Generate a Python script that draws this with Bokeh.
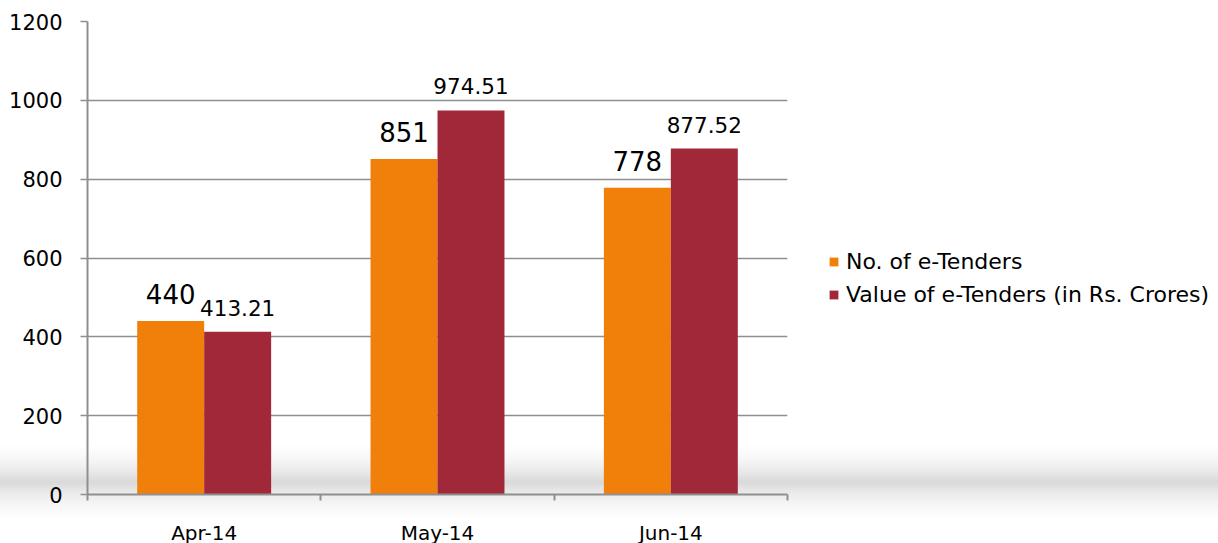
from bokeh.plotting import figure
from bokeh.models import (ColumnDataSource, Range1d, FixedTicker, LabelSet, Legend, LegendItem)
from bokeh.core.properties import value
from bokeh.transform import dodge
from bokeh.embed import file_html
from bokeh.resources import INLINE

# ---- data ----
months = ["Apr-14", "May-14", "Jun-14"]
num_tenders = [440, 851, 778]
value_tenders = [413.21, 974.51, 877.52]
num_labels = ["440", "851", "778"]
value_labels = ["413.21", "974.51", "877.52"]
series_names = ["No. of e-Tenders", "Value of e-Tenders (in Rs. Crores)"]
y_ticks = [0, 200, 400, 600, 800, 1000, 1200]

ORANGE = "#F0800A"
DARKRED = "#A12838"
GRID = "#8f8f8f"
FONT = "DejaVu Sans"

idx = list(range(len(months)))
src = ColumnDataSource(dict(i=idx, month=months, n=num_tenders, v=value_tenders,
                            nl=num_labels, vl=value_labels))

p = figure(x_range=Range1d(-0.5, len(months) - 0.5), y_range=Range1d(0, 1200),
           frame_width=700, frame_height=473, output_backend="svg", toolbar_location=None,
           min_border_left=87, min_border_right=0,
           min_border_top=21, min_border_bottom=0)

p.border_fill_color = None
p.background_fill_color = None
p.outline_line_color = None
p.styles = {"background": "linear-gradient(to bottom, #ffffff 0px, #ffffff 445px, #f6f6f6 460px, "
                          "#ebebeb 470px, #d9d9d9 482px, #ececec 494px, #f6f6f6 505px, #ffffff 518px, #ffffff 100%)"}

w = 0.287
r1 = p.vbar(x=dodge("i", -w / 2), top="n", width=w, source=src,
            fill_color=ORANGE, line_color=None)
r2 = p.vbar(x=dodge("i", w / 2), top="v", width=w, source=src,
            fill_color=DARKRED, line_color=None)

p.add_layout(LabelSet(x=dodge("i", -w / 2), y="n", text="nl", source=src,
                      y_offset=17, text_align="center", text_baseline="alphabetic",
                      text_font=value(FONT), text_font_size="26px", text_color="#000000"))
p.add_layout(LabelSet(x=dodge("i", w / 2), y="v", text="vl", source=src,
                      y_offset=16, text_align="center", text_baseline="alphabetic",
                      text_font=value(FONT), text_font_size="21.5px", text_color="#000000"))

# y axis
ya = p.yaxis[0]
ya.ticker = FixedTicker(ticks=y_ticks)
ya.axis_line_color = GRID
ya.axis_line_width = 2
ya.major_tick_line_color = GRID
ya.major_tick_line_width = 1.5
ya.major_tick_out = 7
ya.major_tick_in = 0
ya.minor_tick_line_color = None
ya.major_label_text_font = FONT
ya.major_label_text_font_size = "21px"
ya.major_label_text_color = "#000000"
ya.major_label_standoff = 18

p.ygrid.ticker = FixedTicker(ticks=y_ticks)
p.ygrid.grid_line_color = GRID
p.ygrid.grid_line_width = 1.5
p.xgrid.grid_line_color = None

# x axis: category labels at centers, ticks at boundaries
xa = p.xaxis[0]
xa.ticker = FixedTicker(ticks=idx, minor_ticks=[k - 0.5 for k in range(len(months) + 1)])
xa.major_label_overrides = {k: m for k, m in zip(idx, months)}
xa.axis_line_color = GRID
xa.axis_line_width = 2
xa.major_tick_line_color = None
xa.major_tick_out = 0
xa.major_tick_in = 0
xa.minor_tick_line_color = GRID
xa.minor_tick_line_width = 2
xa.minor_tick_out = 6
xa.minor_tick_in = 0
xa.major_label_text_font = FONT
xa.major_label_text_font_size = "20px"
xa.major_label_text_color = "#000000"
xa.major_label_standoff = 20

legend = Legend(items=[LegendItem(label=series_names[0], renderers=[r1]),
                       LegendItem(label=series_names[1], renderers=[r2])],
                location=(41, 187), orientation="vertical")
legend.glyph_width = 11
legend.glyph_height = 11
legend.label_standoff = 7
legend.label_text_font = FONT
legend.label_text_font_size = "22px"
legend.label_text_color = "#000000"
legend.spacing = 8
legend.padding = 0
legend.margin = 0
legend.border_line_color = None
legend.background_fill_color = None
p.add_layout(legend, "right")

open("out.html", "w").write(file_html(p, INLINE))
